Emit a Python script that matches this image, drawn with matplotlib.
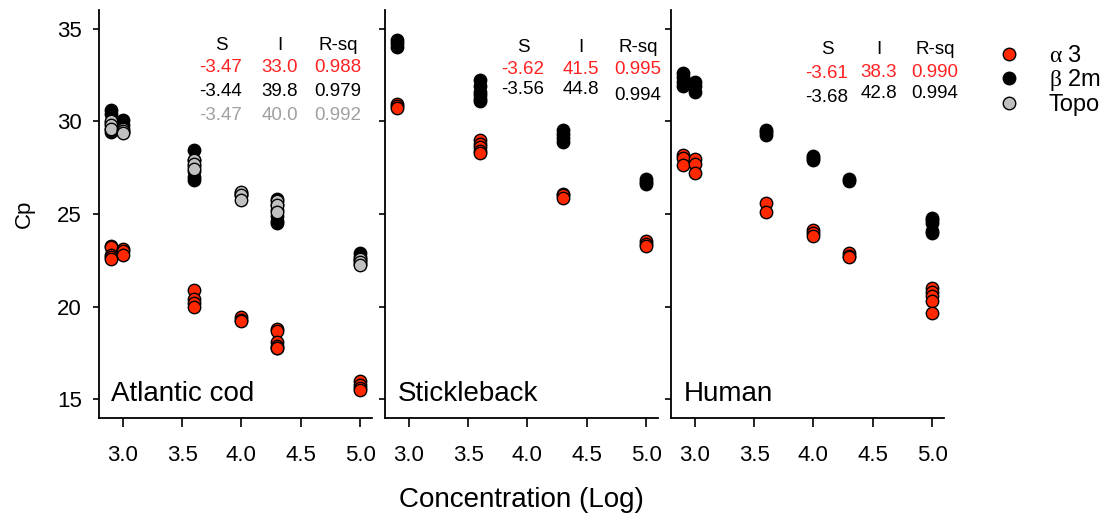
import matplotlib
matplotlib.use("Agg")
import matplotlib.pyplot as plt
from matplotlib.lines import Line2D

plt.rcParams['font.family'] = ['Liberation Sans', 'DejaVu Sans']
plt.rcParams['mathtext.fontset'] = 'custom'
plt.rcParams['mathtext.rm'] = 'Liberation Serif'
plt.rcParams['mathtext.it'] = 'Liberation Serif'
plt.rcParams['mathtext.default'] = 'rm'

# ---------------- data ----------------
# Atlantic cod
cod_a3_x = [2.9]*5 + [3.0]*3 + [3.6]*4 + [4.0]*3 + [4.3]*6 + [5.0]*4
cod_a3_y = [23.3, 23.2, 22.8, 22.7, 22.6, 23.1, 23.0, 22.8,
            20.9, 20.4, 20.2, 20.0, 19.45, 19.3, 19.25,
            18.8, 18.7, 18.1, 17.9, 17.8, 17.75, 16.0, 15.8, 15.6, 15.5]
cod_b2m_x = [2.9]*5 + [3.0]*3 + [3.6]*6 + [4.0]*2 + [4.3]*6 + [5.0]*4
cod_b2m_y = [30.6, 30.4, 29.9, 29.6, 29.4, 30.05, 29.8, 29.4,
             28.45, 27.9, 27.6, 27.3, 27.0, 26.85, 26.15, 26.05,
             25.8, 25.5, 25.2, 24.9, 24.6, 24.5, 22.9, 22.7, 22.5, 22.3]
cod_topo_x = [2.9]*3 + [3.0]*3 + [3.6]*3 + [4.0]*3 + [4.3]*3 + [5.0]*3
cod_topo_y = [30.0, 29.8, 29.6, 29.6, 29.5, 29.35, 27.9, 27.7, 27.45,
              26.2, 26.0, 25.75, 25.7, 25.5, 25.1, 22.6, 22.4, 22.25]

# Stickleback
stk_a3_x = [2.9]*3 + [3.6]*5 + [4.3]*3 + [5.0]*3
stk_a3_y = [30.95, 30.85, 30.7, 29.0, 28.8, 28.6, 28.4, 28.3,
            26.1, 26.0, 25.85, 23.55, 23.4, 23.25]
stk_b2m_x = [2.9]*3 + [3.6]*6 + [4.3]*4 + [5.0]*3
stk_b2m_y = [34.4, 34.2, 34.0, 32.2, 31.9, 31.6, 31.4, 31.2, 31.1,
             29.55, 29.3, 29.1, 28.9, 26.9, 26.75, 26.6]

# Human
hum_a3_x = [2.9]*3 + [3.0]*3 + [3.6]*2 + [4.0]*3 + [4.3]*3 + [5.0]*5
hum_a3_y = [28.2, 28.0, 27.65, 27.95, 27.7, 27.2, 25.6, 25.1,
            24.15, 24.0, 23.8, 22.9, 22.75, 22.7, 21.0, 20.8, 20.6, 20.3, 19.65]
hum_b2m_x = [2.9]*4 + [3.0]*3 + [3.6]*3 + [4.0]*3 + [4.3]*2 + [5.0]*5
hum_b2m_y = [32.6, 32.4, 32.1, 31.9, 32.1, 31.9, 31.6, 29.55, 29.4, 29.25,
             28.15, 28.0, 27.9, 26.9, 26.8, 24.8, 24.65, 24.5, 24.1, 23.95]

species = ["Atlantic cod", "Stickleback", "Human"]
series_labels = [r"$\alpha$ 3", r"$\beta$ 2m", "Topo"]
x_ticks = [3.0, 3.5, 4.0, 4.5, 5.0]
y_ticks = [15, 20, 25, 30, 35]

stat_headers = ["S", "I", "R-sq"]
cod_stats = [["-3.47", "33.0", "0.988"], ["-3.44", "39.8", "0.979"], ["-3.47", "40.0", "0.992"]]
stk_stats = [["-3.62", "41.5", "0.995"], ["-3.56", "44.8", "0.994"]]
hum_stats = [["-3.61", "38.3", "0.990"], ["-3.68", "42.8", "0.994"]]

# ---------------- style ----------------
RED = "#FF2800"
BLACK = "#000000"
GRAY = "#C0C0C0"
TXT_RED = "#FF2222"
TXT_GRAY = "#A0A0A0"
fill_colors = [RED, BLACK, GRAY]
text_colors = [TXT_RED, BLACK, TXT_GRAY]

W, H = 1111, 521
fig = plt.figure(figsize=(W/100, H/100), dpi=100)

def fx(px):
    return px / W

def fy(py):
    return 1 - py / H

panel_left = [99, 385, 671]
panel_w = 273
top_px, bot_px = 10, 418

panels = [
    [(cod_a3_x, cod_a3_y), (cod_b2m_x, cod_b2m_y), (cod_topo_x, cod_topo_y)],
    [(stk_a3_x, stk_a3_y), (stk_b2m_x, stk_b2m_y)],
    [(hum_a3_x, hum_a3_y), (hum_b2m_x, hum_b2m_y)],
]

axes = []
for i, pl in enumerate(panel_left):
    ax = fig.add_axes([fx(pl), fy(bot_px), panel_w / W, (bot_px - top_px) / H])
    axes.append(ax)
    for j, (xs, ys) in enumerate(panels[i]):
        ax.scatter(xs, ys, s=80, facecolor=fill_colors[j], edgecolor="black",
                   linewidth=1.0, zorder=3 + j, clip_on=False)
    ax.set_xlim(2.8, 5.1)
    ax.set_ylim(14, 36)
    ax.set_xticks(x_ticks)
    ax.set_xticklabels([f"{t:.1f}" for t in x_ticks])
    ax.set_yticks(y_ticks)
    for s in ["top", "right"]:
        ax.spines[s].set_visible(False)
    for s in ["left", "bottom"]:
        ax.spines[s].set_linewidth(1.3)
    ax.tick_params(axis="x", direction="out", length=6.5, width=1.2, labelsize=16, pad=13)
    ax.tick_params(axis="y", direction="out", length=4.5, width=1.2, labelsize=16, pad=8)
    if i > 0:
        ax.set_yticklabels([])
    ax.text(0.045, 0.06, species[i], transform=ax.transAxes, fontsize=20,
            ha="left", va="center")

axes[0].set_ylabel("Cp", fontsize=16, labelpad=16)

# statistics tables (pixel positions of text centres)
def stat_table(col_x, head_y, rows_xy, rows):
    for cx, h in zip(col_x, stat_headers):
        fig.text(fx(cx), fy(head_y), h, fontsize=13.5, ha="center", va="center")
    for r, row in enumerate(rows):
        for c, val in enumerate(row):
            fig.text(fx(col_x[c]), fy(rows_xy[r][c]), val, fontsize=13.5,
                     ha="center", va="center", color=text_colors[r])

stat_table([221, 279.5, 338], 45, [[68, 68, 68], [92, 92, 92], [116, 116, 116]], cod_stats)
stat_table([523, 581, 638], 47, [[69, 69, 70], [90, 90, 95]], stk_stats)
stat_table([827, 879, 935], 50, [[73, 72, 72], [97, 94, 94]], hum_stats)

# legend
handles = [Line2D([], [], linestyle="none", marker="o", markersize=9,
                  markerfacecolor=c, markeredgecolor="black", markeredgewidth=1.0)
           for c in fill_colors]
leg = fig.legend(handles, series_labels, loc="upper left",
                 bbox_to_anchor=(fx(985), fy(45)), frameon=False, fontsize=17,
                 labelspacing=0.02, handletextpad=0.7, borderpad=0, borderaxespad=0)

fig.text(fx(521), fy(500), "Concentration (Log)", fontsize=20, ha="center", va="center")

fig.savefig("out.png", dpi=100)
